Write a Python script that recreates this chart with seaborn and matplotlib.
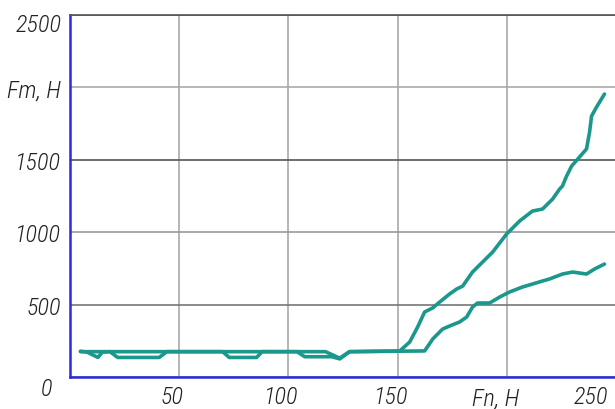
import matplotlib
matplotlib.use("Agg")
import matplotlib.pyplot as plt
import matplotlib.transforms as mtransforms
import seaborn as sns
import pandas as pd
from matplotlib import font_manager

# ---- data ----
x_upper = [5, 8, 13, 15, 18.5, 22, 41, 44.5, 104, 107.5, 120, 123.5, 128, 151,
           155.5, 159.1, 162.3, 166.0, 169.2, 173.7, 177.0, 179.7, 184.2, 188.8,
           193.4, 199.8, 205.7, 211.6, 216.2, 220.8, 224.0, 225.3, 227.2, 229.5,
           233.1, 236.3, 237.7, 238.6, 240.9, 244.5]
y_upper = [178, 172, 135, 172, 175, 135, 135, 175, 175, 140, 140, 125, 175, 180,
           242, 345, 449, 477, 518, 573, 608, 628, 725, 794,
           863, 988, 1077, 1146, 1160, 1229, 1298, 1319, 1388, 1457,
           1519, 1575, 1692, 1802, 1865, 1954]

x_lower = [5, 70, 73, 85.5, 88, 117, 123.5, 128, 162.3, 166.0, 170.5, 173.7,
           178.3, 181.5, 184.2, 186.5, 192.0, 196.6, 201.1, 207.1, 211.6, 216.2,
           219.4, 225.3, 229.9, 236.3, 240.0, 244.5]
y_lower = [175, 175, 135, 135, 175, 175, 130, 175, 180, 262, 331, 352,
           380, 414, 483, 511, 511, 552, 587, 622, 642, 663,
           677, 711, 725, 711, 746, 780]

x_ticks = [50, 100, 150, 200, 250]
x_tick_labels = ["50", "100", "150", "Fn, H", "250"]
y_ticks = [0, 500, 1000, 1500, 2000, 2500]
y_tick_labels = ["0", "500", "1000", "1500", "Fm, H", "2500"]

df = pd.concat([
    pd.DataFrame({"x": x_upper, "y": y_upper, "s": "upper"}),
    pd.DataFrame({"x": x_lower, "y": y_lower, "s": "lower"}),
], ignore_index=True)

sns.set_style("white")
avail = {f.name for f in font_manager.fontManager.ttflist}
fam = "DejaVu Sans"
for cand in ["Roboto Condensed", "Liberation Sans Narrow", "Roboto", "Liberation Sans"]:
    if cand in avail:
        fam = cand
        break
plt.rcParams["font.family"] = [fam, "DejaVu Sans"]

fig = plt.figure(figsize=(6.15, 4.10), dpi=100)
W, H = 615, 410
left, right, bottom, top = 69.5, 616.5, 378, 16
ax = fig.add_axes([left / W, (H - bottom) / H, (right - left) / W, (bottom - top) / H])

teal = "#1b978b"
sns.lineplot(data=df, x="x", y="y", hue="s", palette=[teal, teal], sort=False,
             estimator=None, linewidth=2.6, legend=False, ax=ax)

ax.set_xlim(0, 250)
ax.set_ylim(0, 2500)
ax.set_xlabel("")
ax.set_ylabel("")

ax.set_xticks(x_ticks)
ax.set_xticklabels(x_tick_labels)
ax.set_yticks(y_ticks)
ax.set_yticklabels(y_tick_labels)
ax.tick_params(axis="both", length=0, labelsize=17.5, colors="#222222")
ax.tick_params(axis="x", pad=6)
ax.tick_params(axis="y", pad=6)
for lab in ax.get_xticklabels() + ax.get_yticklabels():
    lab.set_fontstyle("italic")
    lab.set_fontweight("light")

def shift(lab, dx, dy):
    lab.set_transform(lab.get_transform() +
                      mtransforms.ScaledTranslation(dx / 100, dy / 100, fig.dpi_scale_trans))

xl = ax.get_xticklabels()
for lab in xl[:3]:
    shift(lab, -7, 0)
shift(xl[3], -11, -1)
shift(xl[4], -26, 0)
yl = ax.get_yticklabels()
shift(yl[0], -9, -9)
shift(yl[5], 0, -7)

ax.grid(True)
for gl in ax.get_xgridlines():
    gl.set_color("#b5b5b5")
    gl.set_linewidth(1.4)
for gl, c in zip(ax.get_ygridlines(), ["#888", "#777", "#999", "#555", "#aaa", "#555"]):
    gl.set_color(c)
    gl.set_linewidth(1.2)
ax.set_axisbelow(True)

for s in ["left", "bottom"]:
    ax.spines[s].set_color("#2a2ae0")
    ax.spines[s].set_linewidth(1.8)
ax.spines["top"].set_color("#555555")
ax.spines["top"].set_linewidth(1.2)
ax.spines["right"].set_visible(False)

fig.savefig("out.png", dpi=100)
